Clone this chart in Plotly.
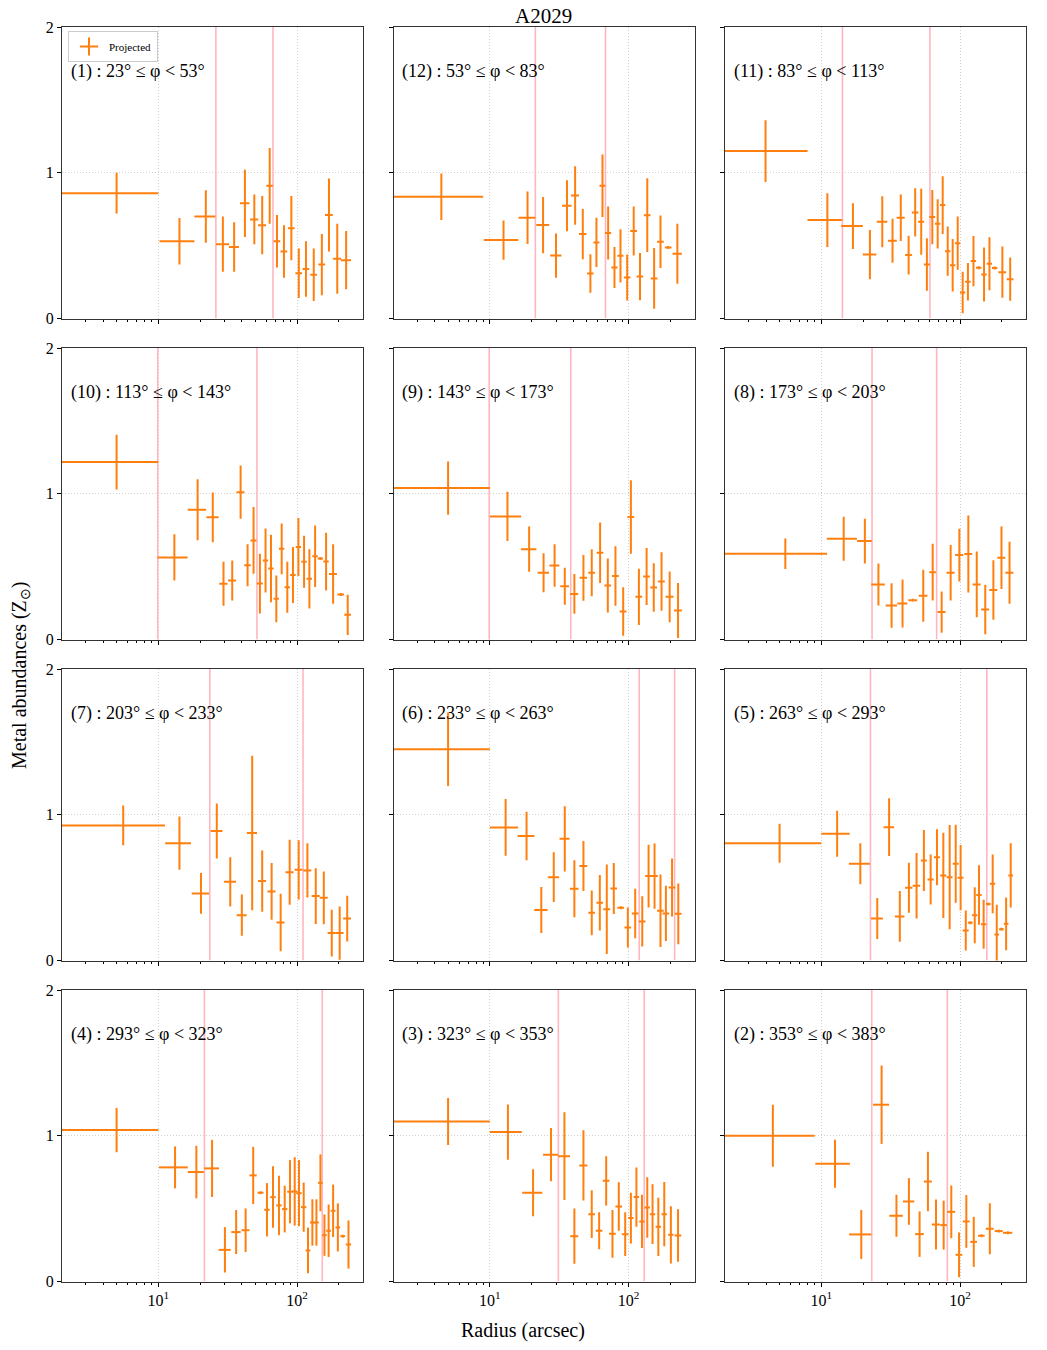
import math
import plotly.graph_objects as go

ORANGE = "#ff7f0e"
PINK = "#ffb6c1"
FONT = "Liberation Serif"

# ---------------- data (radius arcsec, abundance Zsun) ----------------
labels = ["(1) : 23° ≤ φ < 53°", "(12) : 53° ≤ φ < 83°", "(11) : 83° ≤ φ < 113°",
          "(10) : 113° ≤ φ < 143°", "(9) : 143° ≤ φ < 173°", "(8) : 173° ≤ φ < 203°",
          "(7) : 203° ≤ φ < 233°", "(6) : 233° ≤ φ < 263°", "(5) : 263° ≤ φ < 293°",
          "(4) : 293° ≤ φ < 323°", "(3) : 323° ≤ φ < 353°", "(2) : 353° ≤ φ < 383°"]

p1_r = [5.0, 14.2, 22.0, 29.2, 35.2, 42.1, 49.2, 56.1, 63.5, 71.7, 80.5, 91.0, 103, 116, 132, 151, 170, 195, 226]
p1_rerr = [5.0, 4.0, 3.8, 3.2, 2.9, 3.3, 3.3, 3.7, 3.5, 4.0, 4.5, 5.0, 5.7, 6.4, 7.3, 8.4, 11, 13, 19]
p1_z = [0.86, 0.53, 0.70, 0.51, 0.49, 0.79, 0.68, 0.64, 0.91, 0.53, 0.46, 0.62, 0.31, 0.34, 0.30, 0.37, 0.71, 0.41, 0.40]
p1_zerr = [0.14, 0.16, 0.18, 0.19, 0.17, 0.23, 0.17, 0.20, 0.26, 0.18, 0.18, 0.22, 0.17, 0.19, 0.18, 0.21, 0.25, 0.24, 0.20]
p1_lines = [26.0, 67.1]

p12_r = [4.47, 12.55, 18.7, 24.2, 30.0, 36.0, 41.2, 46.8, 53.1, 58.7, 64.9, 71.3, 79.2, 87.5, 97.8, 109, 121, 136.5, 153, 170, 193.5, 225]
p12_rerr = [4.48, 3.5, 2.6, 2.6, 2.8, 2.8, 2.7, 2.9, 2.9, 2.9, 3.2, 3.6, 4.0, 4.4, 5.4, 6.1, 6.7, 7.6, 8.5, 9.4, 10.7, 17.5]
p12_z = [0.835, 0.538, 0.691, 0.641, 0.432, 0.773, 0.844, 0.579, 0.309, 0.522, 0.911, 0.586, 0.35, 0.43, 0.281, 0.60, 0.288, 0.709, 0.275, 0.526, 0.487, 0.444]
p12_zerr = [0.16, 0.135, 0.18, 0.193, 0.152, 0.175, 0.2, 0.173, 0.132, 0.169, 0.214, 0.182, 0.14, 0.183, 0.158, 0.168, 0.162, 0.253, 0.208, 0.18, 0.01, 0.206]
p12_lines = [21.3, 68.2]

p11_r = [3.96, 11.05, 16.9, 22.4, 27.5, 32.6, 37.4, 42.6, 47.5, 52.5, 57.7, 63.1, 69.0, 75.0, 81.5, 88.5, 96.2, 104.5, 114, 125, 136.5, 149, 163, 178, 202, 230]
p11_rerr = [4.0, 3.1, 3.0, 2.5, 2.4, 2.4, 2.5, 2.4, 2.6, 2.6, 2.9, 3.1, 3.1, 3.3, 3.6, 3.9, 4.3, 4.6, 5.1, 5.5, 6.1, 6.6, 7.2, 7.9, 13, 12.8]
p11_z = [1.149, 0.675, 0.634, 0.439, 0.664, 0.533, 0.691, 0.435, 0.728, 0.664, 0.371, 0.696, 0.65, 0.778, 0.462, 0.366, 0.517, 0.178, 0.252, 0.394, 0.348, 0.302, 0.375, 0.346, 0.318, 0.27]
p11_zerr = [0.212, 0.185, 0.157, 0.169, 0.175, 0.151, 0.16, 0.133, 0.166, 0.227, 0.18, 0.186, 0.169, 0.198, 0.169, 0.18, 0.183, 0.142, 0.128, 0.172, 0.01, 0.185, 0.182, 0.01, 0.176, 0.149]
p11_lines = [14.2, 60.7]

p10_r = [5.0, 13.05, 19.2, 24.7, 29.5, 34.1, 39.2, 44.0, 48.6, 54.0, 59.3, 64.9, 70.9, 77.5, 85.1, 93.5, 102.3, 112.4, 122.8, 135, 147.5, 162, 182, 207, 232]
p10_rerr = [5.0, 3.2, 2.9, 2.5, 2.0, 2.3, 2.6, 2.4, 2.4, 2.7, 2.6, 2.9, 3.1, 3.4, 3.8, 4.2, 4.5, 5.0, 5.5, 6.0, 6.5, 7.2, 12, 11.5, 13]
p10_z = [1.217, 0.563, 0.89, 0.838, 0.382, 0.405, 1.011, 0.51, 0.68, 0.384, 0.542, 0.487, 0.279, 0.622, 0.359, 0.442, 0.634, 0.533, 0.416, 0.572, 0.556, 0.535, 0.449, 0.309, 0.169]
p10_zerr = [0.187, 0.159, 0.209, 0.17, 0.151, 0.137, 0.183, 0.144, 0.229, 0.205, 0.219, 0.232, 0.16, 0.174, 0.175, 0.192, 0.199, 0.178, 0.204, 0.211, 0.01, 0.198, 0.204, 0.01, 0.138]
p10_lines = [9.9, 51.4]

p9_r = [5.0, 13.4, 19.2, 24.4, 29.3, 34.7, 40.7, 47.3, 54.3, 62.4, 70.9, 80.5, 91.5, 104, 118.8, 135, 152, 173, 198, 227.5]
p9_rerr = [5.0, 3.4, 2.45, 2.3, 2.4, 2.5, 2.7, 2.9, 3.0, 3.5, 3.9, 4.5, 5.1, 5.8, 6.6, 7.5, 8.5, 9.6, 13, 15]
p9_z = [1.039, 0.844, 0.62, 0.458, 0.508, 0.366, 0.313, 0.423, 0.458, 0.595, 0.371, 0.435, 0.192, 0.84, 0.293, 0.432, 0.357, 0.398, 0.293, 0.199]
p9_zerr = [0.183, 0.169, 0.156, 0.134, 0.146, 0.127, 0.137, 0.157, 0.162, 0.208, 0.185, 0.204, 0.167, 0.252, 0.193, 0.196, 0.167, 0.201, 0.174, 0.189]
p9_lines = [9.9, 38.3]

p8_r = [5.5, 14.5, 20.6, 25.8, 32.1, 38.5, 45.7, 54.3, 63.5, 73.7, 85.6, 98.9, 114.8, 132, 152, 174, 199, 227.5]
p8_rerr = [5.5, 3.55, 2.5, 2.9, 3.0, 3.2, 3.3, 3.9, 3.5, 4.9, 5.7, 6.6, 7.6, 8.8, 10, 11.6, 13, 15]
p8_z = [0.588, 0.691, 0.675, 0.378, 0.233, 0.247, 0.27, 0.30, 0.462, 0.188, 0.458, 0.579, 0.586, 0.378, 0.206, 0.339, 0.561, 0.458]
p8_zerr = [0.105, 0.151, 0.154, 0.144, 0.153, 0.164, 0.01, 0.178, 0.195, 0.141, 0.191, 0.181, 0.264, 0.225, 0.17, 0.204, 0.215, 0.212]
p8_lines = [23.2, 67.8]

p7_r = [5.58, 14.2, 20.3, 26.4, 33.0, 40.0, 47.5, 56.1, 65.6, 76.2, 88.5, 102.8, 118.8, 136.5, 156, 178, 203, 230]
p7_rerr = [5.58, 3.0, 2.9, 2.6, 3.3, 3.3, 4.0, 3.7, 4.4, 5.1, 5.9, 6.8, 7.9, 9.1, 10.4, 11.9, 13.5, 15]
p7_z = [0.927, 0.805, 0.46, 0.888, 0.54, 0.311, 0.874, 0.545, 0.474, 0.261, 0.606, 0.622, 0.618, 0.442, 0.43, 0.188, 0.188, 0.288]
p7_zerr = [0.136, 0.183, 0.14, 0.189, 0.169, 0.141, 0.53, 0.21, 0.195, 0.197, 0.223, 0.203, 0.186, 0.191, 0.181, 0.161, 0.183, 0.157]
p7_lines = [23.5, 110.5]

p6_r = [5.0, 13.0, 18.4, 23.5, 28.9, 34.7, 40.7, 47.3, 54.3, 62.1, 69.7, 78.3, 88.0, 98.9, 111.7, 125.6, 139.5, 154, 170, 186, 206, 228.5]
p6_rerr = [5.0, 3.0, 2.55, 2.6, 2.7, 2.9, 2.9, 3.1, 3.0, 3.4, 3.9, 4.3, 4.9, 5.5, 6.2, 7.0, 7.7, 8.5, 9.4, 10.3, 11.4, 12.7]
p6_z = [1.449, 0.913, 0.854, 0.346, 0.572, 0.835, 0.492, 0.648, 0.327, 0.396, 0.352, 0.494, 0.362, 0.227, 0.323, 0.268, 0.579, 0.579, 0.341, 0.323, 0.501, 0.32]
p6_zerr = [0.252, 0.195, 0.166, 0.158, 0.17, 0.224, 0.195, 0.172, 0.154, 0.19, 0.307, 0.175, 0.01, 0.137, 0.17, 0.172, 0.215, 0.224, 0.249, 0.19, 0.199, 0.208]
p6_lines = [119.4, 215]

p5_r = [5.0, 13.0, 19.1, 25.3, 30.8, 36.8, 42.8, 48.6, 54.9, 61.4, 68.2, 75.8, 84.2, 93.1, 101, 110, 118.8, 127.7, 137, 148, 160, 172, 184, 199, 215, 232]
p5_rerr = [5.0, 3.0, 3.3, 2.5, 2.7, 2.9, 2.6, 3.0, 2.7, 3.1, 3.4, 3.8, 4.2, 4.6, 5.0, 5.5, 4.6, 5.7, 6.1, 6.6, 6.2, 7.6, 7.1, 7.7, 8.4, 9.0]
p5_z = [0.805, 0.87, 0.664, 0.288, 0.915, 0.302, 0.499, 0.513, 0.686, 0.556, 0.709, 0.584, 0.572, 0.664, 0.568, 0.206, 0.259, 0.311, 0.449, 0.249, 0.387, 0.526, 0.178, 0.215, 0.252, 0.584]
p5_zerr = [0.134, 0.158, 0.14, 0.141, 0.198, 0.174, 0.172, 0.225, 0.209, 0.172, 0.192, 0.293, 0.357, 0.268, 0.224, 0.137, 0.01, 0.192, 0.204, 0.168, 0.01, 0.201, 0.205, 0.01, 0.181, 0.221]
p5_lines = [22.6, 156]

p4_r = [5.0, 13.2, 18.8, 24.4, 30.2, 36.4, 42.6, 48.3, 54.6, 60.7, 67.1, 74.1, 81.5, 89.0, 96.2, 103.3, 111.7, 120, 129, 138, 147.5, 157.6, 169, 182, 197, 214, 235]
p4_rerr = [5.0, 3.1, 2.5, 3.0, 3.0, 2.8, 2.8, 2.9, 2.7, 2.7, 3.0, 3.3, 3.6, 4.0, 4.3, 4.6, 5.0, 4.7, 5.0, 5.4, 5.7, 6.1, 6.6, 7.1, 7.7, 8.3, 10.4]
p4_z = [1.039, 0.783, 0.751, 0.776, 0.217, 0.339, 0.352, 0.728, 0.609, 0.492, 0.579, 0.522, 0.497, 0.616, 0.618, 0.606, 0.51, 0.213, 0.405, 0.405, 0.677, 0.318, 0.348, 0.485, 0.371, 0.311, 0.254]
p4_zerr = [0.152, 0.144, 0.18, 0.196, 0.156, 0.151, 0.149, 0.196, 0.01, 0.183, 0.211, 0.204, 0.16, 0.217, 0.235, 0.227, 0.169, 0.157, 0.159, 0.159, 0.195, 0.142, 0.18, 0.18, 0.165, 0.01, 0.165]
p4_lines = [21.5, 152]

p3_r = [5.0, 13.5, 20.5, 27.6, 34.5, 40.7, 47.3, 54.3, 61.4, 69.0, 76.6, 85.1, 94.6, 104, 114, 125, 136.5, 149, 164, 181, 202, 227.5]
p3_rerr = [5.0, 3.5, 3.4, 3.4, 3.4, 2.7, 3.2, 3.0, 3.4, 3.8, 4.3, 4.7, 5.2, 4.6, 5.1, 5.5, 6.1, 6.6, 7.3, 8.0, 9.0, 12.6]
p3_z = [1.098, 1.025, 0.609, 0.87, 0.86, 0.311, 0.796, 0.462, 0.348, 0.691, 0.327, 0.515, 0.325, 0.435, 0.579, 0.412, 0.508, 0.462, 0.375, 0.462, 0.32, 0.316]
p3_zerr = [0.161, 0.189, 0.162, 0.183, 0.301, 0.19, 0.241, 0.164, 0.127, 0.169, 0.164, 0.166, 0.15, 0.174, 0.203, 0.183, 0.207, 0.205, 0.2, 0.221, 0.197, 0.18]
p3_lines = [31.2, 129.8]

p2_r = [4.47, 12.55, 19.4, 27.2, 34.8, 42.8, 51.1, 58.7, 67.1, 76.2, 86.5, 98.4, 111, 125.6, 142.6, 164, 190.5, 221]
p2_rerr = [4.48, 3.5, 3.55, 3.6, 3.9, 4.0, 3.7, 3.9, 4.5, 4.2, 5.8, 5.5, 6.2, 7.0, 7.9, 10.9, 12.7, 17]
p2_z = [1.0, 0.808, 0.323, 1.213, 0.451, 0.549, 0.325, 0.686, 0.391, 0.387, 0.478, 0.183, 0.412, 0.272, 0.314, 0.362, 0.346, 0.334]
p2_zerr = [0.213, 0.165, 0.168, 0.269, 0.144, 0.16, 0.156, 0.204, 0.172, 0.168, 0.181, 0.154, 0.181, 0.172, 0.01, 0.175, 0.01, 0.01]
p2_lines = [23.1, 81.0]

x_major = [10, 100]
x_major_text = ["10<sup>1</sup>", "10<sup>2</sup>"]
x_minor = [2, 3, 4, 5, 6, 7, 8, 9, 20, 30, 40, 50, 60, 70, 80, 90, 200, 300]
y_ticks = [0, 1, 2]

panels = [
    (p1_r, p1_rerr, p1_z, p1_zerr, p1_lines),
    (p12_r, p12_rerr, p12_z, p12_zerr, p12_lines),
    (p11_r, p11_rerr, p11_z, p11_zerr, p11_lines),
    (p10_r, p10_rerr, p10_z, p10_zerr, p10_lines),
    (p9_r, p9_rerr, p9_z, p9_zerr, p9_lines),
    (p8_r, p8_rerr, p8_z, p8_zerr, p8_lines),
    (p7_r, p7_rerr, p7_z, p7_zerr, p7_lines),
    (p6_r, p6_rerr, p6_z, p6_zerr, p6_lines),
    (p5_r, p5_rerr, p5_z, p5_zerr, p5_lines),
    (p4_r, p4_rerr, p4_z, p4_zerr, p4_lines),
    (p3_r, p3_rerr, p3_z, p3_zerr, p3_lines),
    (p2_r, p2_rerr, p2_z, p2_zerr, p2_lines),
]

# ---------------- layout geometry (page pixels; page body has 8px margin) ----------------
OFF = 8
W, H = 1047 - OFF, 1350 - OFF
col_px = [(62, 363), (393.5, 694.5), (725, 1026)]
row_px = [(27, 318.5), (348, 639.5), (669, 960.5), (990, 1281.5)]
GRID = "#d0d0d0"
GRID_DASH = "1px,2px"


def px(xp):
    return (xp - OFF) / W


def py(yp):
    return 1 - (yp - OFF) / H


fig = go.Figure()
layout = dict(width=W, height=H, margin=dict(l=0, r=0, t=0, b=0),
              paper_bgcolor="white", plot_bgcolor="white", template="none",
              font=dict(family=FONT, color="black"))
annotations = []

for i, (r, rerr, z, zerr, lines) in enumerate(panels):
    row, col = divmod(i, 3)
    n = "" if i == 0 else str(i + 1)
    xa, ya = "x" + n, "y" + n
    for v in lines:
        fig.add_trace(go.Scatter(x=[v, v], y=[0, 2], mode="lines",
                                 line=dict(color=PINK, width=1.6),
                                 xaxis=xa, yaxis=ya, showlegend=False, hoverinfo="skip"))
    minus = [min(e, c - 1.0) for c, e in zip(r, rerr)]
    fig.add_trace(go.Scatter(
        x=r, y=z, mode="markers", marker=dict(size=1, color=ORANGE),
        error_x=dict(type="data", symmetric=False, array=rerr, arrayminus=minus,
                     color=ORANGE, thickness=2, width=0),
        error_y=dict(type="data", array=zerr, color=ORANGE, thickness=2, width=0),
        xaxis=xa, yaxis=ya, showlegend=False))

    x0, x1 = col_px[col]
    y0, y1 = row_px[row]
    layout["xaxis" + n] = dict(
        domain=[px(x0), px(x1)], type="log", range=[math.log10(2.02), math.log10(299)],
        anchor=ya, tickmode="array", tickvals=x_major, ticktext=x_major_text,
        showticklabels=(row == 3), ticks="outside", ticklen=4, tickwidth=1, tickcolor="black",
        tickfont=dict(size=16, family=FONT),
        showgrid=True, gridcolor=GRID, griddash=GRID_DASH, gridwidth=1,
        minor=dict(tickmode="array", tickvals=x_minor, ticks="outside", ticklen=2,
                   tickwidth=0.8, tickcolor="black", showgrid=False),
        showline=True, linecolor="#333333", linewidth=1, mirror=True, zeroline=False)
    layout["yaxis" + n] = dict(
        domain=[py(y1), py(y0)], range=[0, 2], anchor=xa,
        tickmode="array", tickvals=y_ticks, showticklabels=(col == 0),
        ticks="outside", ticklen=4, tickwidth=1, tickcolor="black",
        tickfont=dict(size=16, family=FONT),
        showgrid=True, gridcolor=GRID, griddash=GRID_DASH, gridwidth=1,
        showline=True, linecolor="#333333", linewidth=1, mirror=True, zeroline=False)
    annotations.append(dict(text=labels[i], xref=xa + " domain", yref=ya + " domain",
                            x=0.022, y=0.846, xanchor="left", yanchor="middle",
                            showarrow=False, font=dict(size=18, family=FONT, color="black")))

# legend entry
fig.add_trace(go.Scatter(x=[None], y=[None], mode="markers", name="Projected",
                         marker=dict(symbol="cross-thin", size=13, color=ORANGE,
                                     line=dict(width=2, color=ORANGE)),
                         showlegend=True))

annotations += [
    dict(text="A2029", xref="paper", yref="paper", x=px(543), y=py(16),
         xanchor="center", yanchor="middle", showarrow=False, font=dict(size=21, family=FONT)),
    dict(text="Metal abundances (Z<sub>⊙</sub>)", xref="paper", yref="paper", x=px(20), y=py(675),
         xanchor="center", yanchor="middle", textangle=-90, showarrow=False,
         font=dict(size=20, family=FONT)),
    dict(text="Radius (arcsec)", xref="paper", yref="paper", x=px(523), y=py(1330),
         xanchor="center", yanchor="middle", showarrow=False, font=dict(size=20, family=FONT)),
]

layout["annotations"] = annotations
layout["showlegend"] = True
layout["legend"] = dict(x=px(68), y=py(31), xanchor="left", yanchor="top",
                        bgcolor="rgba(255,255,255,0.85)", bordercolor="#cccccc", borderwidth=1,
                        font=dict(size=11, family=FONT), itemwidth=30, tracegroupgap=0)
fig.update_layout(**layout)
fig.write_html("out.html")
